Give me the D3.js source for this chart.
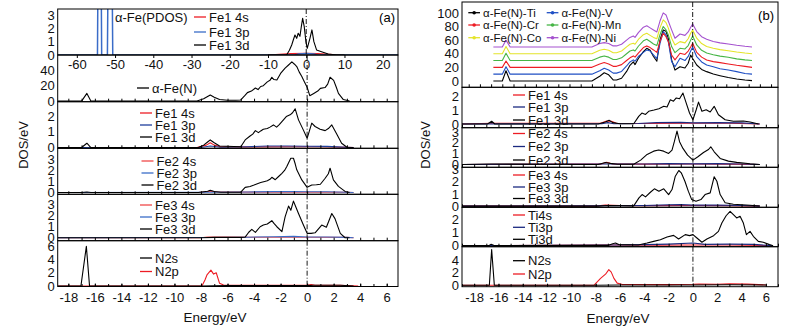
<!DOCTYPE html>
<html><head><meta charset="utf-8">
<script src="https://cdn.jsdelivr.net/npm/d3@7"></script>
<style>body{margin:0;background:#fff}svg{font-family:"Liberation Sans",Arial,sans-serif}</style>
</head><body>
<svg id="c" width="790" height="331"></svg>
<script>
// ---------------- DATA ----------------
const aTopTicks = [-60,-50,-40,-30,-20,-10,0,10,20];
const eTicks = [-18,-16,-14,-12,-10,-8,-6,-4,-2,0,2,4,6];
const aYTicks = [[0,1,2,3],[0,20,40],[0,1,2],[0,1,2,3],[0,1,2,3],[0,2,4,6]];
const bYTicks = [[0,20,40,60,80,100],[0,1,2],[0,1,2,3],[0,1,2,3],[0,1,2],[0,2,4]];

// (a) top: alpha-Fe PDOS (energy, DOS)
const aPdos4s = [[-10,0],[-7,0.05],[-4,0.1],[0,0.12],[3,0.1],[6,0.05],[9,0]];
const aPdos3p = [[-65,0],[-54.6,0],[-54.05,25],[-53.5,0],[-52.0,0],[-51.3,25],[-50.6,0],[-3,0],[-2,0.08],[0,0.12],[2,0.08],[3,0],[24,0]];
const aPdos3d = [[-10,0],[-5.1,0.02],[-4.4,0.35],[-3.8,0.75],[-3.3,1.2],[-2.95,1.5],[-2.5,1.25],[-2.1,1.63],[-1.65,1.4],[-1.3,2.1],[-0.94,2.75],[-0.52,2.13],[-0.08,1.0],[0.26,0.5],[0.97,1.25],[1.49,1.88],[2.0,1.0],[2.7,0.38],[4.0,0.25],[5.75,0.08],[7.9,0],[10,0]];
// (a) alpha-Fe(N) total
const aTot = [[-18.8,0],[-17,0],[-16.6,10],[-16.3,0],[-8.3,0],[-7.8,3],[-7.5,6],[-7.3,8],[-7.0,5],[-6.6,2],[-6.0,1],[-5.4,1],[-5.0,1.5],[-4.7,7],[-4.5,11],[-4.2,13],[-3.9,17],[-3.7,15],[-3.5,19],[-3.3,20],[-3.0,25],[-2.8,27],[-2.66,31],[-2.5,28],[-2.28,27.5],[-2.0,36],[-1.66,43],[-1.4,47],[-1.15,51],[-0.95,48],[-0.78,45],[-0.6,38],[-0.4,32],[-0.2,25],[0,18],[0.2,7],[0.5,10],[0.8,13],[1.0,16.6],[1.35,17.6],[1.55,22],[1.73,31],[2.0,27],[2.2,18],[2.36,10],[2.73,2],[3.2,0]];
// (a) Fe1
const aFe1s = [[-18.8,0],[-8.3,0],[-7.6,0.15],[-7.3,0.3],[-7.0,0.15],[-6.5,0.04],[-4,0.04],[-1,0.05],[1,0.05],[3,0.02],[3.5,0]];
const aFe1p = [[-18.8,0],[-8,0],[-7.3,0.1],[-6.5,0.02],[-4.5,0.05],[-3,0.1],[-1.5,0.1],[0,0.08],[1.5,0.07],[3,0.02],[3.5,0]];
const aFe1d = [[-18.8,0],[-17,0],[-16.6,0.27],[-16.3,0],[-8.2,0],[-7.8,0.15],[-7.5,0.35],[-7.3,0.48],[-7.0,0.3],[-6.6,0.1],[-5.0,0.05],[-4.67,0.48],[-4.3,0.73],[-4.1,0.85],[-3.9,1.07],[-3.67,0.94],[-3.5,1.05],[-3.3,1.16],[-3.0,1.2],[-2.8,1.29],[-2.54,1.43],[-2.3,1.29],[-2.1,1.45],[-1.9,1.64],[-1.57,1.96],[-1.28,2.07],[-1.1,2.2],[-0.9,2.45],[-0.65,1.75],[-0.28,1.1],[0,0.58],[0.35,1.54],[0.6,1.33],[0.98,1.16],[1.36,1.07],[1.6,1.2],[1.86,1.43],[2.2,0.9],[2.6,0.27],[3.0,0.02],[3.5,0]];
// (a) Fe2
const aFe2s = [[-18.8,0],[-8.2,0],[-7.5,0.08],[-7.2,0.12],[-6.8,0.05],[-4,0.04],[0,0.04],[3,0.02],[3.5,0]];
const aFe2p = [[-18.8,0],[-7.5,0.03],[-4.5,0.05],[-2.5,0.08],[-1,0.09],[0,0.07],[1.5,0.07],[3,0.02],[3.5,0]];
const aFe2d = [[-18.8,0],[-17,0],[-16.6,0.05],[-16.3,0],[-8.2,0],[-7.5,0.12],[-7.3,0.2],[-7.0,0.1],[-6.5,0.03],[-5.0,0.03],[-4.67,0.47],[-4.3,0.55],[-4.0,0.68],[-3.75,0.8],[-3.5,0.9],[-3.2,1.0],[-3.0,1.07],[-2.8,1.2],[-2.66,1.38],[-2.4,1.16],[-2.15,1.45],[-1.9,1.74],[-1.7,2.0],[-1.53,2.35],[-1.35,2.8],[-1.23,3.1],[-1.03,3.1],[-0.9,2.6],[-0.78,2.05],[-0.4,1.14],[0,0.47],[0.35,0.68],[0.7,0.7],[1.0,0.75],[1.36,1.29],[1.6,1.7],[1.73,2.2],[1.98,1.14],[2.36,0.56],[2.86,0.1],[3.2,0]];
// (a) Fe3
const aFe3s = [[-18.8,0],[-8,0],[-7.5,0.07],[-6,0.06],[-4,0.05],[0,0.05],[3,0.03],[3.5,0]];
const aFe3p = [[-18.8,0],[-7.5,0.02],[-4.5,0.05],[-2.5,0.09],[-1,0.12],[0,0.07],[1.5,0.07],[3,0.03],[3.5,0]];
const aFe3d = [[-18.8,0],[-8,0],[-7,0.03],[-5,0.03],[-4.67,0.05],[-4.4,0.5],[-4.17,0.76],[-3.9,0.49],[-3.54,1.0],[-3.3,1.15],[-3.0,1.25],[-2.66,1.55],[-2.5,1.3],[-2.28,1.0],[-1.9,0.55],[-1.66,1.9],[-1.4,2.88],[-1.23,2.5],[-1.03,3.33],[-0.85,2.8],[-0.65,2.2],[-0.28,1.15],[0,0.4],[0.3,0.4],[0.6,0.45],[1.1,1.15],[1.45,0.95],[1.86,2.2],[2.1,1.74],[2.5,0.4],[2.86,0],[3.2,0]];
// (a) N
const aN2s = [[-18.8,0],[-17.05,0],[-16.64,6.0],[-16.4,0],[-8,0],[-6,0.05],[0,0.05],[0.5,0.1],[2.5,0.1],[3.5,0]];
const aN2p = [[-18.8,0],[-7.93,0],[-7.7,0.9],[-7.55,1.67],[-7.25,2.4],[-7.05,1.8],[-6.85,2.0],[-6.6,0.4],[-6.3,0.15],[-4,0.1],[0,0.1],[0.3,0.2],[0.6,0.1],[2.5,0.12],[3.85,0]];

// (b) top: total DOS of alpha-Fe(N)-X, shifted by 10 per series
const topE  = [-17.8,-17.0,-16.67,-16.3,-9.0,-8.3,-7.9,-7.5,-7.1,-6.8,-6.35,-5.9,-5.6,-5.3,-5.15,-4.85,-4.4,-4.1,-3.8,-3.5,-3.2,-2.92,-2.63,-2.38,-2.18,-1.88,-1.58,-1.13,-0.69,-0.4,-0.18,0,0.36,0.8,1.25,1.84,2.44,3.18,3.93,4.67,5.3];
const totTi = [0,0,15,0,0,7,12,9,1.5,1.5,4,14,23,28,24,33,43,48,45,36,29,60,75,73,63,31,16,21,19,26,38,33,23.5,17,13.7,10.3,7.8,5,3,1.5,0.5];
const totV  = [10,10,21,10,10,15,18.7,16,11.5,11.5,14,22,28,31,29,36,42,45.6,44,38.2,33,55,72.5,67.6,58,28.4,21,33.4,30,36,44,50,35.7,28,23.5,21,18,16,13.7,11,10];
const totCr = [20,20,29.4,20,20,25,27,25,21.5,21.5,24,30,34,36.8,35,41,49,51.5,49,45.6,42,58,70,65,58,38.2,30.9,40.7,39,44,50,55.4,42,35,30.9,28.4,26.9,25,23,21.5,20];
const totMn = [30,30,40.7,30,30,35,36.8,35,31.5,31.5,34,40,44,45.6,44,51,59,61.3,58,54.4,52,68,80,75,68,50.5,41.6,48,47,52,60,66.2,52.9,45,41,38.5,36.5,34.8,32.5,31,30];
const totCo = [40,40,50.5,40,40,45,46.6,45,41.5,41.5,44,50,54,55.4,54,61,68,70,67,64,62,78,89.7,85.7,78,62.8,52.9,57.8,56,62,70,75,62.8,55,50.5,48,46,44.4,42.5,41,40];
const totNi = [50,50,60,50,50,55,56.3,55,51.5,51.5,54,60,64,66,64,71,79,81,78,75,72,88,100,97,88,75,62.8,69,67,72,79,83.8,72.5,65,61.3,58,56,54.4,52.5,51,50];
// (b) Fe1
const bFe1s = [[-19,0],[-16.6,0.05],[-7.6,0.05],[-7.1,0.22],[-6.7,0.2],[-6.3,0.05],[-4,0.04],[0,0.05],[3,0.05],[5.5,0]];
const bFe1p = [[-19,0],[-7.5,0.02],[-7,0.1],[-6.5,0.02],[-4.5,0.04],[-3,0.1],[-1,0.12],[0,0.08],[2,0.1],[4,0.08],[5.5,0]];
const bFe1d = [[-19,0],[-16.9,0],[-16.56,0.2],[-16.3,0],[-7.8,0],[-7.2,0.15],[-6.9,0.27],[-6.6,0.1],[-6.0,0.02],[-4.87,0.02],[-4.46,0.56],[-4.2,0.8],[-3.9,0.7],[-3.64,0.93],[-3.2,1.02],[-2.8,1.12],[-2.4,1.29],[-2.13,1.24],[-1.86,1.77],[-1.6,1.67],[-1.37,1.9],[-1.1,1.85],[-0.82,2.26],[-0.55,1.53],[-0.28,0.8],[0,0.31],[0.27,1.04],[0.46,1.6],[0.74,0.93],[1.09,1.04],[1.42,0.88],[1.75,1.29],[2.1,0.68],[2.65,0.31],[3.33,0.2],[4.15,0.22],[4.7,0.15],[5.4,0]];
// (b) Fe2
const bFe2s = [[-19,0],[-7.6,0.03],[-7.1,0.2],[-6.6,0.05],[-4,0.03],[0,0.04],[3,0.03],[5.5,0]];
const bFe2p = [[-19,0],[-7,0.05],[-4,0.05],[-2,0.08],[0,0.06],[2,0.08],[4,0.05],[5.5,0]];
const bFe2d = [[-19,0],[-16.6,0.04],[-7.8,0],[-7.2,0.19],[-6.8,0.1],[-6.2,0.02],[-4.87,0.02],[-4.3,0.4],[-3.77,0.93],[-3.23,1.23],[-2.82,1.33],[-2.41,1.23],[-2.0,1.02],[-1.72,1.33],[-1.53,2.1],[-1.31,3.08],[-1.1,2.1],[-0.82,1.48],[-0.44,0.86],[0,0.4],[0.41,0.71],[0.87,1.1],[1.28,1.38],[1.47,1.63],[1.75,1.17],[2.24,0.56],[2.92,0.31],[3.6,0.19],[4.7,0.06],[5.5,0]];
// (b) Fe3
const bFe3s = [[-19,0],[-8,0],[-7.2,0.08],[-6,0.05],[-4,0.04],[0,0.05],[3,0.04],[5.5,0]];
const bFe3p = [[-19,0],[-7,0.03],[-4,0.05],[-2,0.1],[-1,0.12],[0,0.08],[2,0.08],[4,0.05],[5.5,0]];
const bFe3d = [[-19,0],[-7.8,0],[-7,0.05],[-4.87,0.02],[-4.44,0.67],[-4.18,0.94],[-3.9,0.75],[-3.5,1.13],[-3.17,1.41],[-2.8,1.22],[-2.4,1.41],[-2.0,0.94],[-1.72,1.35],[-1.45,2.44],[-1.16,2.91],[-0.96,2.72],[-0.66,2.03],[-0.38,1.22],[-0.1,0.53],[0.25,0.4],[0.66,0.53],[1.0,0.94],[1.42,1.08],[1.75,2.4],[1.97,2.03],[2.24,0.94],[2.65,0.27],[3.33,0.15],[4.7,0.07],[5.5,0]];
// (b) Ti
const bTis = [[-19,0],[-6.6,0.05],[-3,0.04],[0,0.05],[3,0.05],[6.5,0]];
const bTip = [[-19,0],[-6.5,0.05],[-4,0.08],[-2,0.12],[0,0.2],[1,0.1],[3,0.12],[5,0.1],[6.5,0]];
const bTid = [[-19,0],[-16.8,0],[-16.6,0.1],[-16.3,0],[-7,0.02],[-6.6,0.15],[-6.37,0.2],[-6.1,0.08],[-4.5,0.05],[-3.77,0.2],[-3.23,0.33],[-2.68,0.46],[-2.13,0.67],[-1.59,0.79],[-1.18,0.51],[-0.63,0.85],[-0.28,0.77],[0,0.85],[0.33,0.59],[0.74,0.26],[1.15,0.51],[1.7,0.77],[2.1,1.1],[2.38,1.74],[2.73,2.3],[3.06,2.64],[3.33,2.38],[3.6,2.13],[3.88,2.26],[4.15,1.74],[4.4,0.85],[4.7,1.1],[4.97,0.72],[5.38,0.33],[5.79,0.26],[6.3,0.08],[6.6,0]];
// (b) N
const bN2s = [[-19,0],[-16.75,0],[-16.56,5.7],[-16.34,0],[-8,0],[-6,0.05],[0,0.05],[3,0.08],[6,0.05]];
const bN2p = [[-19,0],[-8.15,0],[-7.6,1.1],[-7.19,1.77],[-6.92,2.5],[-6.72,2.1],[-6.5,1.1],[-6.23,0.34],[-5.8,0.12],[-2,0.1],[0,0.15],[0.5,0.2],[2,0.15],[3,0.25],[4.5,0.18],[6,0.05]];

const topNames = ['α-Fe(N)-Ti','α-Fe(N)-V','α-Fe(N)-Cr','α-Fe(N)-Mn','α-Fe(N)-Co','α-Fe(N)-Ni'];
const topSeries = [totTi,totV,totCr,totMn,totCo,totNi];

// ---------------- STYLE / LAYOUT ----------------
const RED='#ed1c24', RED2='#f04a4a', BLUE='#3a6cc8', BLUE2='#1f3f9c', NAVY='#1b2a80';
const topColors = ['#000000','#1f4fc4','#ed1c24','#46b546','#e4e42a','#a552cf'];
const svg = d3.select('#c');
let cid = 0;
const FS = 13;

function pts(arr){ return arr; }
function drawSub(p){
  const x = d3.scaleLinear().domain(p.xdom).range([p.x0,p.x1]);
  const y = d3.scaleLinear().domain(p.ydom).range([p.y1,p.y0]);
  const id = 'cl'+(cid++);
  svg.append('clipPath').attr('id',id).append('rect')
    .attr('x',p.x0).attr('y',p.y0).attr('width',p.x1-p.x0).attr('height',p.y1-p.y0);
  const g = svg.append('g').attr('clip-path',`url(#${id})`);
  p.series.forEach(s=>{
    g.append('path').datum(s.d)
      .attr('d', d3.line().x(d=>x(d[0])).y(d=>y(d[1])))
      .attr('fill','none').attr('stroke',s.c).attr('stroke-width',s.w||1.1)
      .attr('stroke-linejoin','round');
  });
  g.append('line').attr('x1',x(0)).attr('x2',x(0)).attr('y1',p.y0).attr('y2',p.y1)
    .attr('stroke','#000').attr('stroke-width',0.9).attr('stroke-dasharray','5,2,1,2');
  // bottom ticks
  const tb = svg.append('g').attr('transform',`translate(0,${p.y1})`);
  if(p.xlabels){
    tb.call(d3.axisBottom(x).tickValues(p.xlabels).tickSize(p.tickOut?3:-3).tickPadding(p.tickOut?2:6).tickFormat(d=>String(d)));
  } else {
    tb.call(d3.axisBottom(x).tickValues(p.minor).tickSize(-3).tickFormat(''));
  }
  if(p.xlabels && p.minor){
    svg.append('g').attr('transform',`translate(0,${p.y1})`)
      .call(d3.axisBottom(x).tickValues(p.minor).tickSize(-2.5).tickFormat(''))
      .call(a=>a.select('.domain').remove());
  }
  tb.select('.domain').remove();
  tb.attr('font-size',FS).attr('font-family',null);
  tb.selectAll('text').attr('fill','#111');
  // y labels
  const ya = svg.append('g').attr('transform',`translate(${p.x0},0)`)
    .call(d3.axisLeft(y).tickValues(p.yticks).tickSize(0).tickPadding(3).tickFormat(d=>String(d)));
  ya.select('.domain').remove();
  ya.attr('font-size',FS).attr('font-family',null);
  ya.selectAll('text').attr('fill','#111');
  // frame
  svg.append('rect').attr('x',p.x0).attr('y',p.y0).attr('width',p.x1-p.x0).attr('height',p.y1-p.y0)
    .attr('fill','none').attr('stroke','#000').attr('stroke-width',1);
  // legend
  (p.legend||[]).forEach(l=>{
    if(l.c){
      svg.append('line').attr('x1',l.x).attr('x2',l.x+l.len).attr('y1',l.y).attr('y2',l.y)
        .attr('stroke',l.c).attr('stroke-width',1.3);
      if(l.dot) svg.append('circle').attr('cx',l.x+l.len/2).attr('cy',l.y).attr('r',1.8).attr('fill',l.c);
    }
    svg.append('text').attr('x',l.x+(l.c?l.len+3:0)).attr('y',l.y).attr('dy','0.35em')
      .attr('font-size',l.fs||FS).attr('fill','#111').text(l.t);
  });
}

const minorA = d3.range(-18,7,1);
const minorB = d3.range(-19,8,1);
const xA = [-18.8,6.85], xAtop=[-65,24], xB=[-19,7], xBtop=[-20.6,7.62];
const AX0=57.7, AX1=398, BX0=462, BX1=778;

function leg3(x,ys,names,cols){ return names.map((t,i)=>({t,c:cols[i],x,y:ys[i],len:12})); }

const subsA = [
 {y0:9,y1:55,xdom:xAtop,ydom:[0,3.45],yticks:aYTicks[0],xlabels:aTopTicks,tickOut:true,
  series:[{d:aPdos4s,c:RED},{d:aPdos3p,c:BLUE,w:1.5},{d:aPdos3d,c:'#000'}],
  legend:[{t:'α-Fe(PDOS)',x:115,y:17}].concat(leg3(194,[17,32,45],['Fe1 4s','Fe1 3p','Fe1 3d'],[RED,BLUE,'#000']))},
 {y0:55,y1:101.7,xdom:xA,ydom:[-0.8,60],yticks:aYTicks[1],minor:minorA,
  series:[{d:aTot,c:'#000'}],legend:[{t:'α-Fe(N)',c:'#000',x:137,y:88,len:12}]},
 {y0:101.7,y1:148.3,xdom:xA,ydom:[-0.05,2.9],yticks:aYTicks[2],minor:minorA,
  series:[{d:aFe1s,c:RED},{d:aFe1p,c:BLUE2},{d:aFe1d,c:'#000'}],
  legend:leg3(140,[113,125,137],['Fe1 4s','Fe1 3p','Fe1 3d'],[RED,BLUE2,'#000'])},
 {y0:148.3,y1:194.3,xdom:xA,ydom:[-0.16,4.0],yticks:aYTicks[3],minor:minorA,
  series:[{d:aFe2s,c:RED2},{d:aFe2p,c:BLUE},{d:aFe2d,c:'#000'}],
  legend:leg3(141.5,[161,173,185],['Fe2 4s','Fe2 3p','Fe2 3d'],[RED2,BLUE,'#000'])},
 {y0:194.3,y1:240.7,xdom:xA,ydom:[-0.27,3.95],yticks:aYTicks[4],minor:minorA,
  series:[{d:aFe3s,c:RED2},{d:aFe3p,c:BLUE},{d:aFe3d,c:'#000'}],
  legend:leg3(140,[205,217,229],['Fe3 4s','Fe3 3p','Fe3 3d'],[RED2,BLUE,'#000'])},
 {y0:240.7,y1:286.5,xdom:xA,ydom:[-0.08,6.86],yticks:aYTicks[5],minor:minorA,xlabels:eTicks,
  series:[{d:aN2p,c:RED},{d:aN2s,c:'#000'}],
  legend:leg3(140,[258,271.5],['N2s','N2p'],['#000',RED])}
];

const topLeg = topNames.map((t,i)=>({t,c:topColors[i],dot:true,len:11.7,fs:11.5,
   x: i%2===0?468.3:546.7, y:[12.7,25,37.7][Math.floor(i/2)]}));

const subsB = [
 {y0:2,y1:87.3,xdom:xBtop,ydom:[-9.3,116],yticks:bYTicks[0],minor:d3.range(-20,8,1),
  series:topSeries.map((s,i)=>({d:topE.map((e,k)=>[e,s[k]]),c:topColors[i],w:1.1})),
  legend:topLeg},
 {y0:87.3,y1:127.7,xdom:xB,ydom:[-0.27,2.68],yticks:bYTicks[1],minor:minorB,
  series:[{d:bFe1s,c:RED},{d:bFe1p,c:NAVY},{d:bFe1d,c:'#000'}],
  legend:leg3(513,[95,107,120],['Fe1 4s','Fe1 3p','Fe1 3d'],[RED,NAVY,'#000'])},
 {y0:127.7,y1:167.3,xdom:xB,ydom:[-0.26,3.39],yticks:bYTicks[2],minor:minorB,
  series:[{d:bFe2s,c:RED},{d:bFe2p,c:NAVY},{d:bFe2d,c:'#000'}],
  legend:leg3(513,[133.5,146.5,160],['Fe2 4s','Fe2 3p','Fe2 3d'],[RED,NAVY,'#000'])},
 {y0:167.3,y1:207.3,xdom:xB,ydom:[-0.1,3.17],yticks:bYTicks[3],minor:minorB,
  series:[{d:bFe3s,c:RED},{d:bFe3p,c:NAVY},{d:bFe3d,c:'#000'}],
  legend:leg3(513,[175,187,198.5],['Fe3 4s','Fe3 3p','Fe3 3d'],[RED,NAVY,'#000'])},
 {y0:207.3,y1:246.7,xdom:xB,ydom:[-0.08,2.95],yticks:bYTicks[4],minor:minorB,
  series:[{d:bTis,c:RED},{d:bTip,c:NAVY},{d:bTid,c:'#000'}],
  legend:leg3(513,[215,227.3,239.3],['Ti4s','Ti3p','Ti3d'],[RED,NAVY,'#000'])},
 {y0:246.7,y1:286.7,xdom:xB,ydom:[-0.23,6.17],yticks:bYTicks[5],minor:minorB,xlabels:eTicks,
  series:[{d:bN2p,c:RED},{d:bN2s,c:'#000'}],
  legend:leg3(513,[260.7,274],['N2s','N2p'],['#000',RED])}
];

subsA.forEach(s=>drawSub(Object.assign({x0:AX0,x1:AX1},s)));
subsB.forEach(s=>drawSub(Object.assign({x0:BX0,x1:BX1},s)));

// panel tags & axis titles
svg.append('text').attr('x',395).attr('y',17).attr('dy','0.35em').attr('text-anchor','end').attr('font-size',13).text('(a)');
svg.append('text').attr('x',774).attr('y',15).attr('dy','0.35em').attr('text-anchor','end').attr('font-size',13).text('(b)');
svg.append('text').attr('x',215).attr('y',317).attr('dy','0.35em').attr('text-anchor','middle').attr('font-size',13.5).attr('fill','#111').text('Energy/eV');
svg.append('text').attr('x',618).attr('y',318).attr('dy','0.35em').attr('text-anchor','middle').attr('font-size',13.5).attr('fill','#111').text('Energy/eV');
svg.append('text').attr('transform','translate(23,145) rotate(-90)').attr('dy','0.35em').attr('text-anchor','middle').attr('font-size',13).attr('fill','#111').text('DOS/eV');
svg.append('text').attr('transform','translate(425,145) rotate(-90)').attr('dy','0.35em').attr('text-anchor','middle').attr('font-size',13).attr('fill','#111').text('DOS/eV');
</script>
</body></html>
